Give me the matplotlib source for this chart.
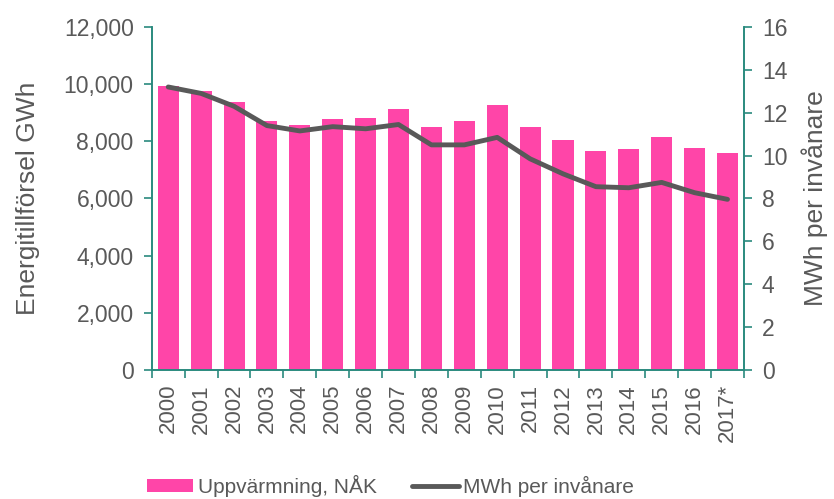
import numpy as np
import matplotlib.pyplot as plt
from matplotlib.ticker import FuncFormatter

plt.rcParams["font.family"] = ["Liberation Sans", "DejaVu Sans"]

# data
years = ["2000", "2001", "2002", "2003", "2004", "2005", "2006", "2007", "2008",
         "2009", "2010", "2011", "2012", "2013", "2014", "2015", "2016", "2017*"]
uppvarmning = [9930, 9750, 9380, 8710, 8560, 8790, 8810, 9120, 8510,
               8710, 9260, 8510, 8040, 7670, 7740, 8140, 7750, 7580]
mwh_per_inv = [13.2, 12.9, 12.3, 11.4, 11.15, 11.35, 11.25, 11.45, 10.5,
               10.5, 10.85, 9.85, 9.15, 8.55, 8.5, 8.75, 8.27, 7.96]

PINK = "#FF45A8"
LINE = "#595959"
TEAL = "#2A8A7E"
TXT = "#595959"

fig = plt.figure(figsize=(8.34, 4.99), dpi=100)
ax = fig.add_axes([0.182, 0.2585, 0.71, 0.6875])
ax2 = ax.twinx()

x = np.arange(len(years))
ax.bar(x, uppvarmning, width=0.64, color=PINK, label="Uppvärmning, NÅK", zorder=2)
ax2.plot(x, mwh_per_inv, color=LINE, lw=3.5, solid_capstyle="round",
         label="MWh per invånare", zorder=3)

ax.set_xlim(-0.5, len(years) - 0.5)
ax.set_ylim(0, 12000)
ax2.set_ylim(0, 16)
ax.set_yticks(np.arange(0, 12001, 2000))
ax2.set_yticks(np.arange(0, 17, 2))
ax.yaxis.set_major_formatter(FuncFormatter(lambda v, p: f"{int(v):,}"))

# year labels at bar centres, tick marks at slot edges
ax.set_xticks(x)
ax.set_xticklabels(years, rotation=90, fontsize=16, color=TXT)
ax.tick_params(axis="x", which="major", length=0, pad=10)
ax.set_xticks(np.arange(-0.5, len(years), 1), minor=True)
ax.tick_params(axis="x", which="minor", length=6, color=TEAL, width=1.2)

for a in (ax, ax2):
    a.spines["top"].set_visible(False)
    for s in ("left", "right", "bottom"):
        a.spines[s].set_color(TEAL)
        a.spines[s].set_linewidth(1.2)
    a.tick_params(axis="y", length=6, color=TEAL, width=1.2, labelsize=16.5,
                  labelcolor=TXT, pad=7)

ax.set_ylabel("Energitillförsel GWh", fontsize=19, color=TXT, labelpad=17)
ax2.set_ylabel("MWh per invånare", fontsize=19, color=TXT, labelpad=10)

h1, l1 = ax.get_legend_handles_labels()
h2, l2 = ax2.get_legend_handles_labels()
fig.legend(h1 + h2, l1 + l2, loc="lower center", bbox_to_anchor=(0.468, -0.034),
           ncol=2, frameon=False, fontsize=15, labelcolor=TXT,
           handlelength=2.25, handleheight=0.6, handletextpad=0.2, columnspacing=1.7)

fig.savefig("out.png", dpi=100)
